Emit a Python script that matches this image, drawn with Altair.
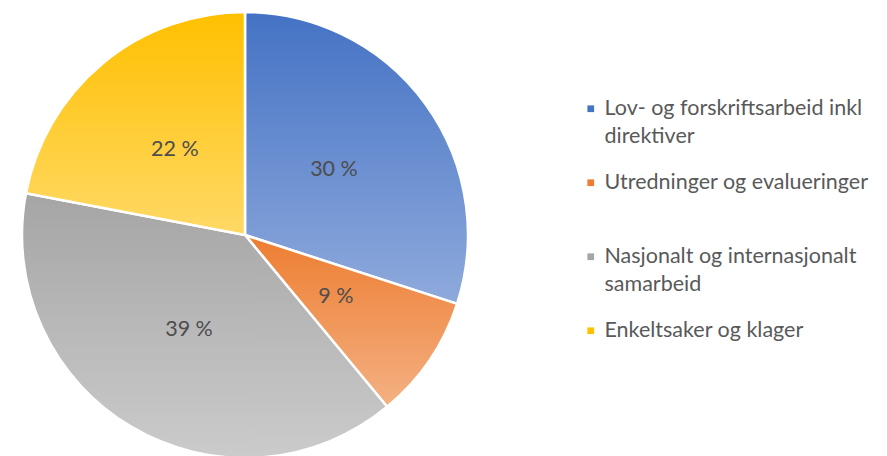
import altair as alt
import pandas as pd

categories = [
    "Lov- og forskriftsarbeid inkl\ndirektiver",
    "Utredninger og evalueringer\n ",
    "Nasjonalt og internasjonalt\nsamarbeid",
    "Enkeltsaker og klager\n ",
]
values = [30, 9, 39, 22]
pct_labels = ["30 %", "9 %", "39 %", "22 %"]
order = [0, 1, 2, 3]
base_colors = ["#4472C4", "#ED7D31", "#A5A5A5", "#FFC000"]
light_colors = ["#8FAADC", "#F4B183", "#CBCBCB", "#FFD966"]

df = pd.DataFrame({"cat": categories, "value": values, "label": pct_labels, "idx": order})


def grad(c0, c1):
    return {
        "gradient": "linear", "x1": 0, "y1": 0, "x2": 0, "y2": 1,
        "stops": [{"offset": 0, "color": c0}, {"offset": 1, "color": c1}],
    }


fill_def = {
    "condition": [
        {"test": f"datum.idx === {i}", "value": grad(base_colors[i], light_colors[i])}
        for i in range(3)
    ],
    "value": grad(base_colors[3], light_colors[3]),
}

CX, CY = 237, 227

base = alt.Chart(df)

arcs = base.mark_arc(radius=223, stroke="white", strokeWidth=2.5).encode(
    theta=alt.Theta("value:Q", stack=True),
    order=alt.Order("idx:Q"),
    fill=fill_def,
    x=alt.value(CX),
    y=alt.value(CY),
)

legend_layer = base.mark_square(size=45).encode(
    color=alt.Color(
        "cat:N",
        scale=alt.Scale(domain=categories, range=base_colors),
        sort=categories,
        legend=alt.Legend(
            title=None,
            orient="none",
            legendX=572,
            legendY=90,
            symbolType="square",
            symbolSize=45,
            symbolStrokeWidth=0,
            symbolOpacity=1,
            labelFont="Lato",
            labelFontSize=21.5,
            labelColor="#595959",
            labelLimit=400,
            labelOffset=3,
            rowPadding=23,
            labelExpr="split(datum.label, '\\n')",
        ),
    ),
    x=alt.value(-60),
    y=alt.value(-60),
)

texts = base.mark_text(radius=110, font="Lato", fontSize=21.5, color="#4D4D4D").encode(
    theta=alt.Theta("value:Q", stack=True),
    order=alt.Order("idx:Q"),
    text="label:N",
    x=alt.value(CX),
    y=alt.value(CY),
)

chart = (
    alt.layer(arcs, texts, legend_layer)
    .properties(width=871, height=448, autosize=alt.AutoSizeParams(type="none"), padding=0)
    .configure(style={"guide-label": {"lineHeight": 28}})
    .configure_view(stroke=None)
)

chart.save("out.html", embed_options={"renderer": "svg", "actions": False})
